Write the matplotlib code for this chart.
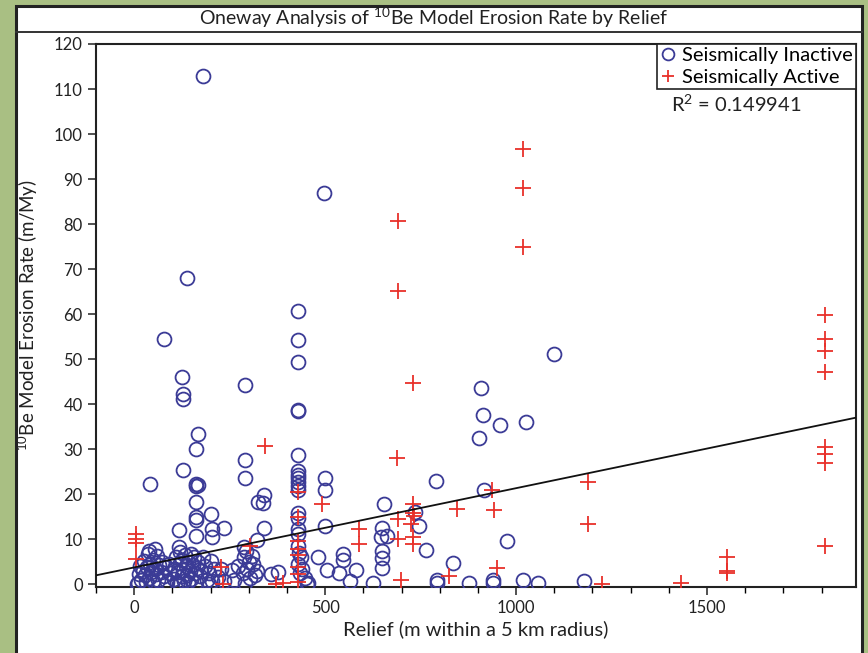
import matplotlib
matplotlib.use('Agg')
import matplotlib.pyplot as plt
from matplotlib.patches import Rectangle
from matplotlib.lines import Line2D
import numpy as np

plt.rcParams['font.family'] = ['Lato', 'DejaVu Sans']
plt.rcParams['mathtext.default'] = 'regular'

# seismically inactive basins (relief m, erosion rate m/My)
inactive_x = [180, 496, 139, 428, 78, 428, 428, 126, 289, 128, 128, 428, 428, 166, 162,
              289, 428, 128, 289, 42, 161, 163, 166, 428, 428, 428, 428, 428, 428, 500,
              500, 500, 339, 323, 336, 161, 162, 163, 202, 118, 161, 204, 204, 235, 339,
              428, 428, 428, 428, 322,
              482, 505, 454, 537, 546, 546, 566, 580, 624, 653, 650, 646, 663, 650, 650,
              650, 735, 746, 763, 791, 836, 794, 794, 877, 907, 914, 959, 1025, 903, 916,
              975, 940, 940, 1019, 1057, 1099, 1179,
              288, 292, 288, 300, 312, 296, 285, 322, 302, 290, 316, 308, 272, 262, 255,
              358, 376, 227, 234,
              428, 432, 436, 430, 440, 446, 452, 434,
              10, 12, 15, 18, 22, 25, 28, 30, 33, 36, 38, 40, 42, 45, 48, 50, 55, 55, 58,
              60, 62, 65, 70, 72, 78, 80, 85, 90, 95, 8,
              105, 108, 110, 112, 115, 117, 120, 121, 124, 126, 128, 130, 132, 135, 138,
              140, 142, 145, 148, 150, 153, 156, 158, 162, 165, 168, 172, 175, 180, 185,
              190, 195, 200, 205, 210, 220, 117, 121, 195]
inactive_y = [113.0, 86.8, 68.1, 60.8, 54.4, 54.2, 49.4, 46.1, 44.3, 42.2, 41.2, 38.7, 38.4, 33.4, 30.1,
              27.6, 28.8, 25.3, 23.6, 22.3, 22.3, 21.8, 22.1, 25.1, 24.3, 23.5, 22.7, 21.9, 20.9, 23.5,
              20.9, 12.9, 19.8, 18.3, 18.1, 18.3, 15.0, 14.2, 15.7, 12.1, 10.8, 12.2, 10.6, 12.4, 12.4,
              15.9, 14.8, 12.2, 11.1, 9.8,
              6.0, 3.1, 0.2, 2.4, 6.8, 5.5, 0.7, 3.2, 0.2, 17.9, 12.6, 10.5, 10.8, 7.5, 5.8,
              3.6, 16.1, 13.0, 7.6, 22.9, 4.7, 1.0, 0.2, 0.2, 43.7, 37.6, 35.4, 36.0, 32.5, 20.9,
              9.6, 1.0, 0.2, 1.0, 0.2, 51.1, 0.8,
              8.2, 7.3, 6.0, 5.0, 4.6, 3.5, 2.5, 3.0, 1.5, 0.2, 2.0, 6.2, 4.0, 1.0, 3.2,
              2.3, 2.7, 3.4, 0.8,
              8.5, 7.0, 6.0, 4.5, 3.5, 1.5, 0.0, 2.5,
              0.3, 2.2, 4.0, 1.0, 3.0, 5.2, 2.0, 0.5, 3.8, 6.8, 7.4, 1.5, 4.5, 2.8, 0.8, 5.5, 7.8, 3.5, 2.2,
              6.3, 1.0, 4.2, 2.8, 5.0, 1.8, 3.8, 0.5, 4.6, 2.5, 0.0,
              1.2, 3.5, 6.0, 0.3, 2.8, 8.2, 4.8, 7.1, 1.8, 5.5, 3.2, 0.8, 6.4, 4.0, 2.1,
              0.4, 5.0, 3.0, 1.2, 6.8, 4.2, 6.0, 2.4, 0.6, 3.6, 5.0, 1.8, 2.9, 6.0, 4.0,
              1.0, 2.5, 5.2, 0.8, 3.4, 1.6, 0.0, 0.0, 0.0]

# seismically active basins
active_x = [6, 6, 6, 6, 227, 232, 304, 343, 371, 389,
            430, 430, 430, 430, 430, 430, 430, 430,
            493, 589, 589,
            691, 691, 689, 691, 691, 698,
            731, 729, 729, 733, 724, 729, 729,
            824, 846, 938, 941, 950,
            1019, 1019, 1019,
            1187, 1187, 1224, 1432,
            1553, 1553, 1553,
            1809, 1809, 1809, 1809, 1809, 1809, 1809, 1809]
active_y = [11.2, 10.0, 9.1, 5.6, 3.8, 0.0, 8.6, 30.7, 0.0, 0.2,
            20.6, 15.0, 9.7, 7.8, 6.6, 3.9, 2.3, 0.4,
            17.9, 12.2, 8.9,
            80.6, 65.1, 28.1, 14.4, 10.0, 0.9,
            44.6, 17.9, 15.9, 15.2, 13.3, 10.5, 8.9,
            1.9, 16.8, 20.9, 16.4, 3.7,
            96.7, 88.0, 74.9,
            22.8, 13.5, 0.0, 0.3,
            6.0, 3.0, 2.5,
            59.9, 54.4, 51.8, 47.1, 30.6, 29.0, 27.0, 8.4]

# linear fit shown on the chart
fit_intercept = 3.75
fit_slope = 0.0176
r_squared = 0.149941

x_lim = (-100, 1890)
y_lim = (-0.6, 120)

W, H = 868, 653
fig = plt.figure(figsize=(W / 100, H / 100), dpi=100, facecolor='#a9bf83')

# white panel with black frame and title strip
fig.patches.append(Rectangle((16 / W, -0.02), (862 - 16) / W, (H - 6) / H + 0.02,
                             transform=fig.transFigure, facecolor='white',
                             edgecolor='#222222', linewidth=2.2, zorder=-10))
fig.lines.append(Line2D([16 / W, 862 / W], [1 - 32 / H, 1 - 32 / H], transform=fig.transFigure,
                        color='#333333', linewidth=1.4, zorder=-5))
fig.text(0.5, 1 - 18 / H, 'Oneway Analysis of $^{10}$Be Model Erosion Rate by Relief',
         ha='center', va='center', fontsize=14, color='#222222')

ax = fig.add_axes([96 / W, 66 / H, (856 - 96) / W, (587 - 44) / H])
ax.set_facecolor('white')

ax.plot(inactive_x, inactive_y, 'o', mfc='none', mec='#3b3b96', ms=10, mew=1.3,
        label='Seismically Inactive', zorder=3)
ax.plot(active_x, active_y, '+', color='#e8302a', ms=11, mew=1.3,
        label='Seismically Active', zorder=4)

fx = np.array(x_lim)
ax.plot(fx, fit_intercept + fit_slope * fx, color='#111111', linewidth=1.3, zorder=5)

ax.set_xlim(*x_lim)
ax.set_ylim(*y_lim)
ax.set_xticks([0, 500, 1000, 1500])
ax.set_xticks(np.arange(-100, 1900, 100), minor=True)
ax.set_yticks(np.arange(0, 121, 10))
ax.tick_params(axis='both', which='major', direction='out', length=6, width=1.1,
               labelsize=12, colors='#222222')
ax.tick_params(axis='x', which='minor', direction='out', length=4, width=1.0)
for s in ax.spines.values():
    s.set_linewidth(1.5)
    s.set_color('#222222')

ax.set_xlabel('Relief (m within a 5 km radius)', fontsize=14.5, color='#222222', labelpad=3)
ax.set_ylabel('$^{10}$Be Model Erosion Rate (m/My)', fontsize=13.5, color='#222222', labelpad=10)

leg = ax.legend(loc='upper right', borderaxespad=0, fontsize=14.5, handlelength=0.8,
                handletextpad=0.3, borderpad=0.15, labelspacing=0.25, fancybox=False,
                framealpha=1, edgecolor='#222222', markerscale=0.85)
leg.get_frame().set_linewidth(1.2)
ax.text(0.843, 0.89, 'R$^2$ = ' + str(r_squared),
        transform=ax.transAxes, ha='center', va='center', fontsize=14.5, color='#222222')

fig.savefig('out.png', dpi=100, facecolor=fig.get_facecolor())
